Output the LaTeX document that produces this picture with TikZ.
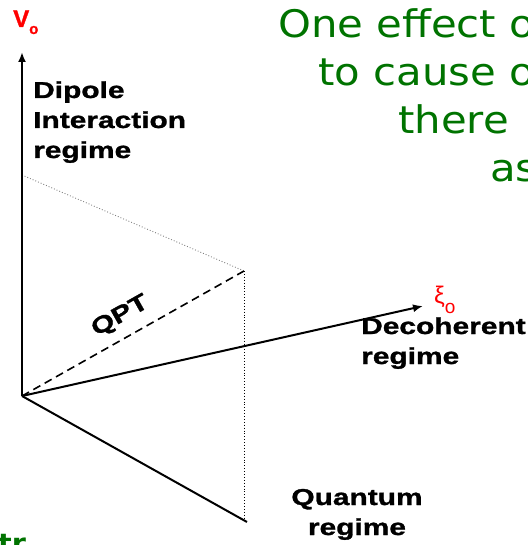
\documentclass[tikz,border=0pt]{standalone}
\usepackage{fontspec}
\setmainfont{Liberation Sans}
\newfontfamily\regimefont{Liberation Sans}[FakeStretch=1.3, BoldFeatures={FakeBold=1.2}]
\newfontfamily\axisfont{Liberation Sans}[BoldFeatures={FakeBold=1.2}]
\newfontfamily\slidefont{DejaVu Sans}[FakeStretch=1.1]
\usetikzlibrary{arrows.meta}
\definecolor{slidegreen}{RGB}{0,115,0}

\begin{document}
\begin{tikzpicture}[x=1pt, y=-1pt,
  axis/.style={line width=2pt, -{Latex[length=10pt, width=8pt]}},
  regime/.style={font=\regimefont\bfseries\fontsize{23}{30}\selectfont, inner sep=0pt},
  guide/.style={line width=0.9pt, dotted},
  slide/.style={font=\slidefont\fontsize{38}{48}\selectfont, text=slidegreen, inner sep=0pt, anchor=base west}
]
  \useasboundingbox (0,0) rectangle (527,545);
  \clip (0,0) rectangle (527,545);

  % axes
  \coordinate (O) at (22,396);
  \coordinate (vtip) at (22,52);
  \coordinate (xitip) at (423,306);
  \coordinate (qend) at (247,522);
  \coordinate (vmark) at (22,175);
  \coordinate (P) at (244,271);
  \coordinate (Pfoot) at (244,520);

  \draw[guide, gray] (vmark) -- (P);
  \draw[guide] (P) -- (Pfoot);
  \draw[line width=1.6pt, dash pattern=on 8pt off 5pt] (O) -- node[pos=0.49, sloped, above=10pt, regime] (qpt) {QPT} (P);
  \draw[axis] (O) -- (vtip);
  \draw[axis] (O) -- (xitip);
  \draw[line width=2pt] (O) -- (qend);

  % axis labels
  \node[inner sep=0pt, anchor=base west, text=red, font=\axisfont] (vlabel) at (13,27)
    {{\bfseries\fontsize{24}{24}\selectfont V}\raisebox{-7pt}{\bfseries\fontsize{15}{15}\selectfont o}};
  \node[inner sep=0pt, anchor=base west, text=red] (xilabel) at (434,303)
    {{\fontsize{24}{24}\selectfont ξ}\raisebox{-10pt}{\fontsize{19}{19}\selectfont o}};

  % regimes (anchored at the last line)
  \node[regime, align=left, anchor=base west] (dipole) at (33,158) {Dipole\\Interaction\\regime};
  \node[regime, align=left, anchor=base west] (decoh) at (361,364) {Decoherent\\regime};
  \node[regime, align=center, anchor=base] (quantum) at (357,535) {Quantum\\regime};

  % slide text
  \node[slide] (line1) at (278,38) {One effect o};
  \node[slide] (line2) at (318,86) {to cause o};
  \node[slide] (line3) at (398,134) {there};
  \node[slide] (line4) at (490,182) {as};
  \node[slide, font=\slidefont\bfseries\fontsize{26}{30}\selectfont] (frag) at (-2,552) {tr};
\end{tikzpicture}
\end{document}
